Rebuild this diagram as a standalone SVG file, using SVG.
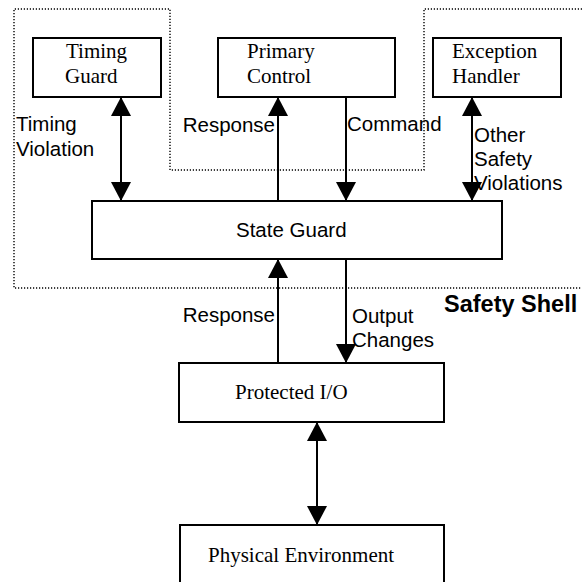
<svg xmlns="http://www.w3.org/2000/svg" width="582" height="582" viewBox="0 0 582 582">
<defs>
<marker id="ah" markerUnits="userSpaceOnUse" markerWidth="19" markerHeight="20" refX="19" refY="10" orient="auto-start-reverse" viewBox="0 0 19 20">
<path d="M0,0 L19,10 L0,20 z" fill="#000"/>
</marker>
<style>
.box{fill:#fff;stroke:#000;stroke-width:2}
.tr{font-family:"Liberation Serif","Times New Roman",serif;font-size:21px;fill:#000}
.ar{font-family:"Liberation Sans",Arial,sans-serif;font-size:20.5px;fill:#000}
.ln{stroke:#000;stroke-width:2;fill:none}
.shell{fill:none;stroke:#000;stroke-width:1.4;stroke-dasharray:1.2 1.8}
</style>
</defs>
<rect width="582" height="582" fill="#fff"/>
<g id="safety-shell">
<path class="shell" d="M582,9 H424 V170 H170 V9 H14 V288 H582"/>
<text x="444" y="312" font-family="'Liberation Sans',Arial,sans-serif" font-size="23.5" font-weight="bold">Safety Shell</text>
</g>
<g id="timing-guard">
<rect class="box" x="33" y="38" width="128" height="59"/>
<text class="tr" x="66" y="58">Timing</text>
<text class="tr" x="65" y="83">Guard</text>
</g>
<g id="primary-control">
<rect class="box" x="218" y="38" width="177" height="59"/>
<text class="tr" x="247" y="58">Primary</text>
<text class="tr" x="247" y="83">Control</text>
</g>
<g id="exception-handler">
<rect class="box" x="433" y="38" width="128" height="59"/>
<text class="tr" x="452" y="58">Exception</text>
<text class="tr" x="452" y="83">Handler</text>
</g>
<g id="state-guard">
<rect class="box" x="92" y="201" width="410" height="58"/>
<text class="ar" x="236" y="237">State Guard</text>
</g>
<g id="protected-io">
<rect class="box" x="179" y="363" width="265" height="59"/>
<text class="tr" x="235" y="399">Protected I/O</text>
</g>
<g id="physical-environment">
<rect class="box" x="180" y="525" width="264" height="70"/>
<text class="tr" x="208" y="562">Physical Environment</text>
</g>
<g id="connectors">
<line class="ln" x1="121" y1="97" x2="121" y2="201" marker-start="url(#ah)" marker-end="url(#ah)"/>
<line class="ln" x1="278" y1="201" x2="278" y2="97" marker-end="url(#ah)"/>
<line class="ln" x1="346" y1="97" x2="346" y2="201" marker-end="url(#ah)"/>
<line class="ln" x1="472" y1="97" x2="472" y2="201" marker-start="url(#ah)" marker-end="url(#ah)"/>
<line class="ln" x1="278" y1="363" x2="278" y2="259" marker-end="url(#ah)"/>
<line class="ln" x1="346" y1="259" x2="346" y2="363" marker-end="url(#ah)"/>
<line class="ln" x1="317" y1="422" x2="317" y2="525" marker-start="url(#ah)" marker-end="url(#ah)"/>
<text class="ar" x="16" y="131">Timing</text>
<text class="ar" x="16" y="156">Violation</text>
<text class="ar" x="275" y="132" text-anchor="end">Response</text>
<text class="ar" x="347" y="131">Command</text>
<text class="ar" x="474" y="142">Other</text>
<text class="ar" x="474" y="166">Safety</text>
<text class="ar" x="474" y="190">Violations</text>
<text class="ar" x="275" y="322" text-anchor="end">Response</text>
<text class="ar" x="352" y="323">Output</text>
<text class="ar" x="352" y="347">Changes</text>
</g>
</svg>
